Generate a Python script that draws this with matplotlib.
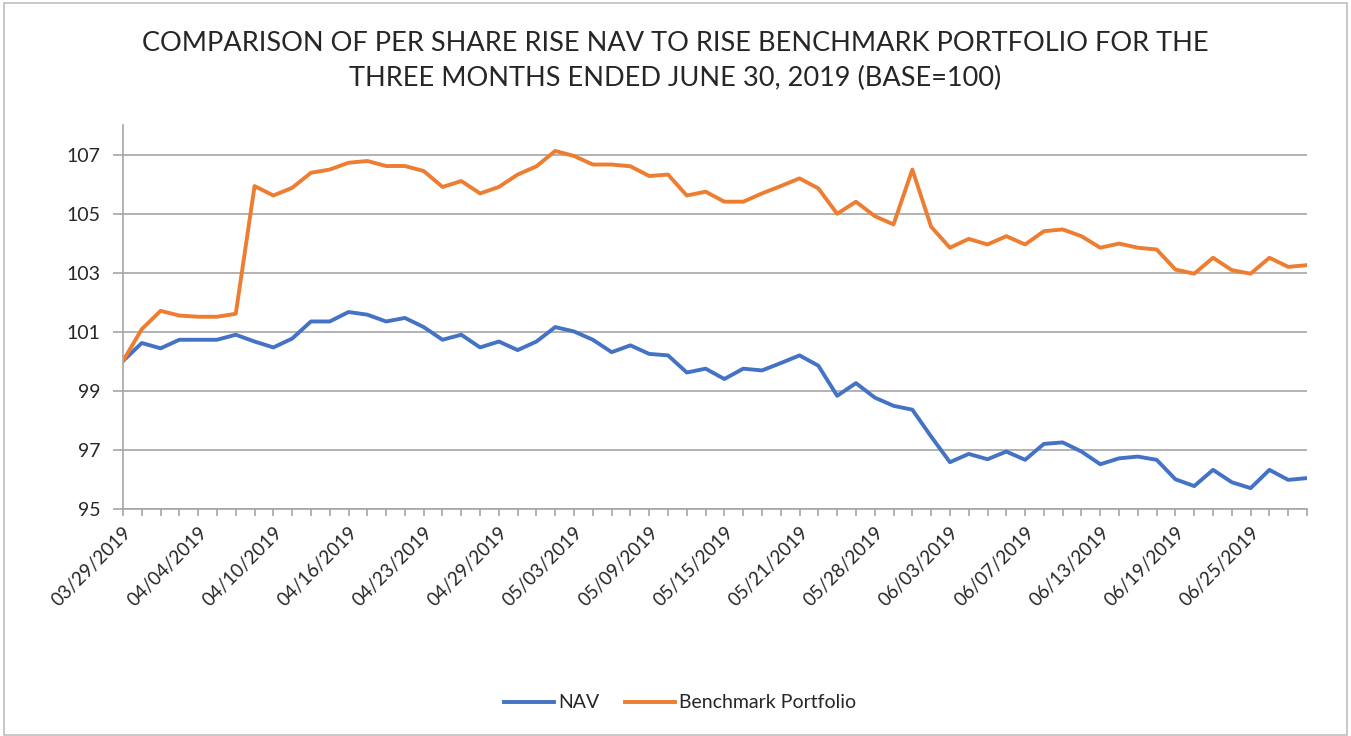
import matplotlib
matplotlib.use('Agg')
import matplotlib.pyplot as plt

# Trading days, 03/29/2019 - 06/28/2019
dates = ['03/29/2019', '04/01/2019', '04/02/2019', '04/03/2019', '04/04/2019',
         '04/05/2019', '04/08/2019', '04/09/2019', '04/10/2019',
         '04/11/2019', '04/12/2019', '04/15/2019', '04/16/2019',
         '04/17/2019', '04/18/2019', '04/22/2019', '04/23/2019',
         '04/24/2019', '04/25/2019', '04/26/2019', '04/29/2019',
         '04/30/2019', '05/01/2019', '05/02/2019', '05/03/2019',
         '05/06/2019', '05/07/2019', '05/08/2019', '05/09/2019',
         '05/10/2019', '05/13/2019', '05/14/2019', '05/15/2019',
         '05/16/2019', '05/17/2019', '05/20/2019', '05/21/2019',
         '05/22/2019', '05/23/2019', '05/24/2019', '05/28/2019',
         '05/29/2019', '05/30/2019', '05/31/2019', '06/03/2019',
         '06/04/2019', '06/05/2019', '06/06/2019', '06/07/2019',
         '06/10/2019', '06/11/2019', '06/12/2019', '06/13/2019',
         '06/14/2019', '06/17/2019', '06/18/2019', '06/19/2019',
         '06/20/2019', '06/21/2019', '06/24/2019', '06/25/2019',
         '06/26/2019', '06/27/2019', '06/28/2019']

nav = [100.0, 100.61, 100.43, 100.72, 100.72, 100.72, 100.89, 100.66, 100.46,
       100.76, 101.34, 101.34, 101.66, 101.57, 101.34, 101.46, 101.15,
       100.72, 100.89, 100.46, 100.66, 100.37, 100.66, 101.15, 101.0,
       100.72, 100.3, 100.53, 100.24, 100.19, 99.61, 99.74, 99.39,
       99.74, 99.68, 99.93, 100.19, 99.84, 98.82, 99.25, 98.76,
       98.48, 98.35, 97.44, 96.57, 96.85, 96.67, 96.93, 96.65,
       97.19, 97.24, 96.93, 96.5, 96.7, 96.76, 96.65, 95.99,
       95.76, 96.31, 95.89, 95.69, 96.31, 95.97, 96.03]

benchmark = [100.0, 101.08, 101.7, 101.54, 101.5, 101.5, 101.6, 105.93,
             105.61, 105.87, 106.38, 106.49, 106.72, 106.78, 106.61, 106.61,
             106.44, 105.9, 106.1, 105.68, 105.9, 106.32, 106.6, 107.12,
             106.95, 106.66, 106.66, 106.6, 106.27, 106.32, 105.61, 105.74,
             105.4, 105.4, 105.68, 105.93, 106.19, 105.85, 104.99, 105.4,
             104.91, 104.63, 106.49, 104.55, 103.84, 104.14, 103.95, 104.23,
             103.95, 104.4, 104.46, 104.23, 103.84, 103.98, 103.84, 103.78,
             103.1, 102.96, 103.5, 103.08, 102.96, 103.5, 103.19, 103.25]

y_ticks = [95, 97, 99, 101, 103, 105, 107]

plt.rcParams['font.family'] = ['Lato', 'DejaVu Sans']
grid_col = '#A6A6A6'
txt_col = '#262626'

fig = plt.figure(figsize=(13.51, 7.36), dpi=100)
ax = fig.add_axes([123 / 1351, 1 - 508.5 / 736, (1307 - 123) / 1351, (508.5 - 125) / 736])

x = list(range(len(dates)))
ax.plot(x, nav, color='#4472C4', linewidth=2.8, label='NAV', solid_joinstyle='round')
ax.plot(x, benchmark, color='#ED7D31', linewidth=2.8, label='Benchmark Portfolio',
        solid_joinstyle='round')

ax.set_xlim(0, len(dates) - 1)
ax.set_ylim(95, 108)
ax.set_yticks(y_ticks)
ax.set_yticklabels([str(v) for v in y_ticks], fontsize=14, color=txt_col)
ax.set_xticks(x)
ax.set_xticklabels([d if i % 4 == 0 else '' for i, d in enumerate(dates)],
                   rotation=45, ha='right', rotation_mode='anchor',
                   fontsize=13.5, color=txt_col)
ax.tick_params(axis='x', length=5, color=grid_col, width=1.2, pad=6)
ax.tick_params(axis='y', length=7, color=grid_col, width=1.2, pad=9)
ax.grid(axis='y', color=grid_col, linewidth=1.2)
ax.set_axisbelow(True)
for s in ['top', 'right']:
    ax.spines[s].set_visible(False)
for s in ['left', 'bottom']:
    ax.spines[s].set_color(grid_col)
    ax.spines[s].set_linewidth(1.2)

fig.text(0.5, 1 - 61 / 736,
         'COMPARISON OF PER SHARE RISE NAV TO RISE BENCHMARK PORTFOLIO FOR THE\n'
         'THREE MONTHS ENDED JUNE 30, 2019 (BASE=100)',
         ha='center', va='center', fontsize=19.5, color=txt_col, linespacing=1.5)

fig.legend(loc='center', bbox_to_anchor=(680 / 1351, 1 - 703 / 736), ncol=2,
           frameon=False, fontsize=14, handlelength=2.6, handletextpad=0.2,
           columnspacing=1.3, labelcolor=txt_col)

# chart border
fig.patches.append(plt.Rectangle((4 / 1351, 1 / 736), 1343 / 1351, 732 / 736,
                                 transform=fig.transFigure, fill=False,
                                 edgecolor='#BFBFBF', linewidth=1.2))

fig.savefig('out.png', dpi=100)
